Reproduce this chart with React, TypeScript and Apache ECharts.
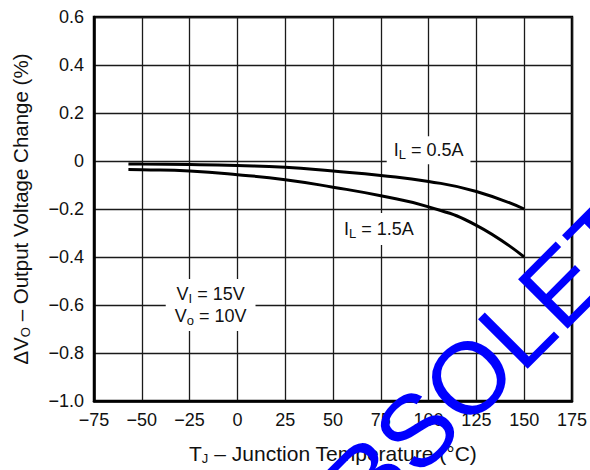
import React, { useEffect, useRef } from "react";
import * as echarts from "echarts";

// Junction temperature (°C)
const temperatures = [-57, -50, -25, 0, 25, 50, 75, 100, 125, 150];
// Output voltage change (%) at IL = 0.5 A
const change05A = [-0.012, -0.013, -0.015, -0.019, -0.026, -0.042, -0.06, -0.085, -0.127, -0.2];
// Output voltage change (%) at IL = 1.5 A
const change15A = [-0.035, -0.036, -0.042, -0.057, -0.078, -0.109, -0.145, -0.191, -0.268, -0.4];

const xMin = -75;
const xMax = 175;
const xStep = 25;
const yMin = -1.0;
const yMax = 0.6;
const yStep = 0.2;

const xTitle = "T{s|J} – Junction Temperature (°C)";
const yTitle = "ΔV{s|O} – Output Voltage Change (%)";
const label05 = "I{s|L} = 0.5A";
const label15 = "I{s|L} = 1.5A";
const labelCond = "V{s|I} = 15V\nV{s|o} = 10V";
const watermark = "OBSOLETE";

// anchors (data coordinates) for annotation labels
const anchor05: [number, number] = [100, 0.045];
const anchor15: [number, number] = [74, -0.283];
const anchorCond: [number, number] = [-14, -0.6];

const FONT = "'Liberation Sans', Arial, Helvetica, sans-serif";

const minus = (s: string) => s.replace("-", "\u2212");

export default function App() {
  const ref = useRef<HTMLDivElement>(null);

  useEffect(() => {
    if (!ref.current) return;
    const chart = echarts.init(ref.current, undefined, { renderer: "svg" });

    const subRich = {
      s: { fontSize: 13, fontFamily: FONT, color: "#111", verticalAlign: "bottom", lineHeight: 13 },
    };

    chart.setOption({
      animation: false,
      backgroundColor: "#fff",
      grid: {
        left: 93,
        right: 16,
        top: 17,
        bottom: 67,
        show: true,
        borderColor: "#000",
        borderWidth: 2.5,
        backgroundColor: "transparent",
      },
      xAxis: {
        type: "value",
        min: xMin,
        max: xMax,
        interval: xStep,
        name: xTitle,
        nameLocation: "middle",
        nameGap: 40,
        nameTextStyle: {
          fontSize: 21,
          fontFamily: FONT,
          color: "#111",
          lineHeight: 24,
          rich: subRich,
        },
        axisLine: { show: true, onZero: false, lineStyle: { color: "#000", width: 2.5 } },
        axisTick: { show: false },
        axisLabel: {
          margin: 10,
          fontSize: 18,
          fontFamily: FONT,
          color: "#111",
          formatter: (v: number) => minus(String(v)),
        },
        splitLine: { show: true, lineStyle: { color: "#1a1a1a", width: 1.3 } },
      },
      yAxis: {
        type: "value",
        min: yMin,
        max: yMax,
        interval: yStep,
        name: yTitle,
        nameLocation: "middle",
        nameGap: 62,
        nameTextStyle: {
          fontSize: 20.5,
          fontFamily: FONT,
          color: "#111",
          lineHeight: 24,
          rich: subRich,
        },
        axisLine: { show: true, onZero: false, lineStyle: { color: "#000", width: 2.5 } },
        axisTick: { show: false },
        axisLabel: {
          margin: 10,
          fontSize: 18,
          fontFamily: FONT,
          color: "#111",
          formatter: (v: number) => {
            const r = Math.round(v * 10) / 10;
            if (r === 0) return "0";
            return minus(r.toFixed(1));
          },
        },
        splitLine: { show: true, lineStyle: { color: "#1a1a1a", width: 1.3 } },
      },
      series: [
        {
          name: "IL = 0.5A",
          type: "line",
          smooth: true,
          showSymbol: false,
          data: temperatures.map((t, i) => [t, change05A[i]]),
          lineStyle: { color: "#000", width: 3 },
          z: 3,
        },
        {
          name: "IL = 1.5A",
          type: "line",
          smooth: true,
          showSymbol: false,
          data: temperatures.map((t, i) => [t, change15A[i]]),
          lineStyle: { color: "#000", width: 3 },
          z: 3,
        },
      ],
    });

    const px = (p: [number, number]) => chart.convertToPixel({ gridIndex: 0 }, p) as number[];
    const p05 = px(anchor05);
    const p15 = px(anchor15);
    const pCond = px(anchorCond);

    const labelStyle = (text: string, padding: number[]) => ({
      text,
      fontSize: 18,
      fontFamily: FONT,
      fill: "#111",
      lineHeight: 22,
      align: "center",
      verticalAlign: "middle",
      backgroundColor: "#fff",
      padding,
      rich: {
        s: { fontSize: 13, fontFamily: FONT, fill: "#111", verticalAlign: "bottom", lineHeight: 13 },
      },
    });

    chart.setOption({
      graphic: [
        { type: "text", x: p05[0], y: p05[1], z: 50, style: labelStyle(label05, [3, 7]) },
        { type: "text", x: p15[0], y: p15[1], z: 50, style: labelStyle(label15, [5, 7]) },
        { type: "text", x: pCond[0], y: pCond[1], z: 50, style: labelStyle(labelCond, [4, 9]) },
        {
          type: "text",
          x: 483,
          y: 364,
          rotation: Math.PI / 4,
          z: 100,
          style: {
            text: watermark,
            fontSize: 102,
            fontFamily: FONT,
            fill: "#0000ff",
            align: "center",
            verticalAlign: "middle",
          },
        },
      ],
    });

    return () => chart.dispose();
  }, []);

  return (
    <div
      ref={ref}
      style={{ position: "absolute", left: 0, top: 0, width: 590, height: 470 }}
    />
  );
}
